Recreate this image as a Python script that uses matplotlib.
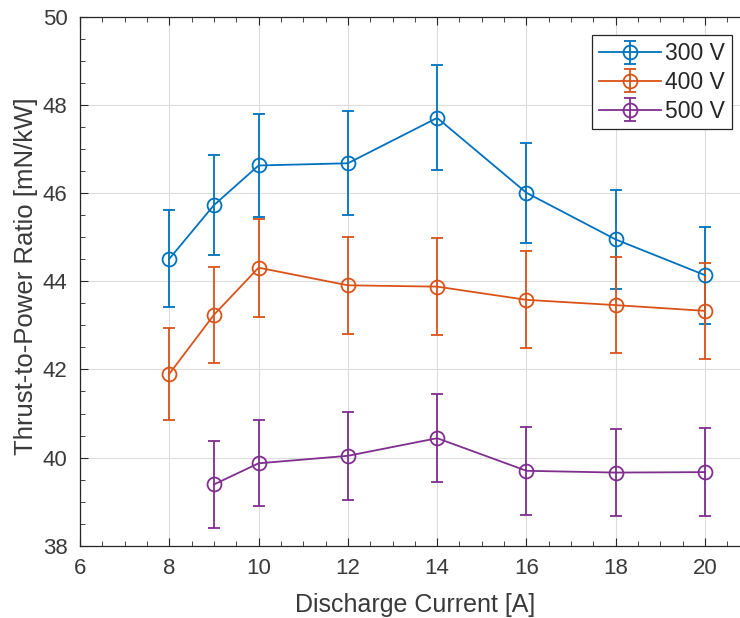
import matplotlib.pyplot as plt
from matplotlib.ticker import MultipleLocator

# Discharge current [A]
current_300 = [8, 9, 10, 12, 14, 16, 18, 20]
current_400 = [8, 9, 10, 12, 14, 16, 18, 20]
current_500 = [9, 10, 12, 14, 16, 18, 20]

# Thrust-to-power ratio [mN/kW] and error bars
tpr_300 = [44.51, 45.73, 46.63, 46.68, 47.71, 46.01, 44.95, 44.14]
err_300 = [1.10, 1.13, 1.16, 1.18, 1.19, 1.14, 1.12, 1.10]
tpr_400 = [41.90, 43.24, 44.31, 43.91, 43.88, 43.58, 43.46, 43.33]
err_400 = [1.05, 1.09, 1.11, 1.10, 1.10, 1.10, 1.09, 1.09]
tpr_500 = [39.39, 39.87, 40.04, 40.44, 39.70, 39.66, 39.67]
err_500 = [0.99, 0.98, 1.00, 1.00, 1.00, 0.98, 1.00]

labels = ["300 V", "400 V", "500 V"]
colors = ["#0072BD", "#D95319", "#7E2F8E"]

plt.rcParams["font.family"] = ["Liberation Sans", "DejaVu Sans"]

fig = plt.figure(figsize=(7.4, 6.18), dpi=100)
ax = fig.add_axes([0.1081, 0.117, 0.905, 0.8555])

series = [(current_300, tpr_300, err_300),
          (current_400, tpr_400, err_400),
          (current_500, tpr_500, err_500)]
for (x, y, e), lab, c in zip(series, labels, colors):
    ax.errorbar(x, y, yerr=e, color=c, marker="o", markersize=10,
                markerfacecolor="none", markeredgewidth=1.3, linewidth=1.3,
                elinewidth=1.3, capsize=4, capthick=1.3, label=lab)

ax.set_xlim(6, 21)
ax.set_ylim(38, 50)
ax.xaxis.set_major_locator(MultipleLocator(2))
ax.xaxis.set_minor_locator(MultipleLocator(0.5))
ax.yaxis.set_major_locator(MultipleLocator(2))
ax.yaxis.set_minor_locator(MultipleLocator(0.5))
ax.tick_params(which="both", direction="in", top=True, colors="#262626",
               labelcolor="#3a3a3a", labelsize=16)
ax.tick_params(which="major", length=6, width=0.8, pad=9)
ax.tick_params(which="minor", length=3.5, width=0.6)
ax.grid(True, which="major", color="#dcdcdc", linewidth=0.8)
ax.set_axisbelow(True)
for s in ["left", "bottom", "top"]:
    ax.spines[s].set_color("#262626")
    ax.spines[s].set_linewidth(0.9)
ax.spines["right"].set_visible(False)

ax.set_xlabel("Discharge Current [A]", fontsize=18, color="#3a3a3a", labelpad=10)
ax.set_ylabel("Thrust-to-Power Ratio [mN/kW]", fontsize=18.5, color="#3a3a3a")
ax.yaxis.set_label_coords(-0.062, 0.51)

leg = ax.legend(loc="upper right", bbox_to_anchor=(0.989, 0.943),
                bbox_transform=fig.transFigure, borderaxespad=0,
                fontsize=16.5, fancybox=False, framealpha=1,
                handlelength=2.7, handletextpad=0.2, labelspacing=0.25,
                borderpad=0.3)
leg.get_frame().set_edgecolor("#262626")
leg.get_frame().set_linewidth(0.9)
for t in leg.get_texts():
    t.set_color("#262626")

fig.savefig("out.png", dpi=100)
